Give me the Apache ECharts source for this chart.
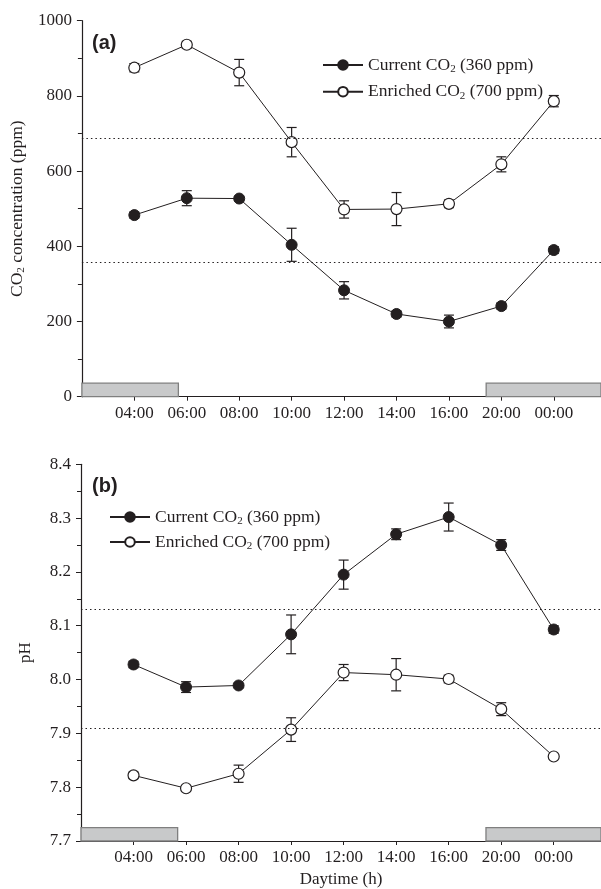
<!DOCTYPE html>
<html>
<head>
<meta charset="utf-8">
<script src="https://cdn.jsdelivr.net/npm/echarts@6/dist/echarts.min.js"></script>
<style>
html,body{margin:0;padding:0;background:#fff;}
#chart{width:601px;height:889px;}
</style>
</head>
<body>
<div id="chart"></div>
<script>
// ---- data ----
const timeLabels = ['04:00','06:00','08:00','10:00','12:00','14:00','16:00','20:00','00:00'];
const co2Current = [483, 528, 527, 404, 283, 220, 200, 241, 390];
const co2CurrentErr = [8, 20, 6, 44, 23, 8, 17, 8, 9];
const co2Enriched = [875, 936, 862, 677, 498, 499, 513, 618, 786];
const co2EnrichedErr = [11, 9, 35, 39, 23, 44, 10, 20, 15];
const phCurrent = [8.028, 7.986, 7.989, 8.084, 8.195, 8.270, 8.302, 8.250, 8.093];
const phCurrentErr = [0.006, 0.01, 0.004, 0.036, 0.027, 0.01, 0.026, 0.01, 0.007];
const phEnriched = [7.822, 7.798, 7.825, 7.907, 8.013, 8.009, 8.001, 7.945, 7.857];
const phEnrichedErr = [0.006, 0.005, 0.016, 0.022, 0.015, 0.03, 0.007, 0.012, 0.004];
const co2RefLines = [688, 357];
const phRefLines = [8.126, 7.91];
const darkPeriods = [[-1, 0.84], [6.71, 8.9]]; // x-extent (category index units)
const co2DarkHeight = 36;
const phDarkTop = 7.725;

const INK = '#231f20';
const SERIF = '"Liberation Serif", "DejaVu Serif", serif';
const NAME_CUR = 'Current CO2 (360 ppm)';
const NAME_ENR = 'Enriched CO2 (700 ppm)';

const chart = echarts.init(document.getElementById('chart'), null, {renderer: 'canvas'});

function pts(arr) { return arr.map((v, i) => [i, v]); }
function errs(arr, e) { return arr.map((v, i) => [i, v - e[i], v + e[i]]); }

function errRender(params, api) {
  const x = api.value(0), lo = api.value(1), hi = api.value(2);
  const p1 = api.coord([x, hi]), p2 = api.coord([x, lo]);
  const w = 5;
  const st = {stroke: INK, lineWidth: 1.2};
  return {
    type: 'group',
    children: [
      {type: 'line', shape: {x1: p1[0], y1: p1[1], x2: p2[0], y2: p2[1]}, style: st},
      {type: 'line', shape: {x1: p1[0] - w, y1: p1[1], x2: p1[0] + w, y2: p1[1]}, style: st},
      {type: 'line', shape: {x1: p2[0] - w, y1: p2[1], x2: p2[0] + w, y2: p2[1]}, style: st}
    ]
  };
}

const richText = {
  t: {fontFamily: SERIF, fontSize: 17.5, color: INK, lineHeight: 20},
  s: {fontFamily: SERIF, fontSize: 11, color: INK, lineHeight: 10, verticalAlign: 'bottom'}
};

function legendFmt(name) {
  if (name === NAME_CUR) return '{t|Current CO}{s|2}{t| (360 ppm)}';
  return '{t|Enriched CO}{s|2}{t| (700 ppm)}';
}

const xAxisCommon = {
  type: 'value', min: -1, max: 8.9, interval: 1,
  axisLine: {show: true, onZero: false, lineStyle: {color: INK, width: 1.2}},
  axisTick: {show: true, length: 4, lineStyle: {color: INK, width: 1}},
  splitLine: {show: false},
  axisLabel: {
    show: true, margin: 8, fontFamily: SERIF, fontSize: 17, color: INK,
    showMinLabel: false, showMaxLabel: false,
    formatter: v => (Number.isInteger(v) && v >= 0 && v < timeLabels.length) ? timeLabels[v] : ''
  }
};

function darkAreas(yBottom, yTop) {
  return darkPeriods.map(p => [{coord: [p[0], yBottom]}, {coord: [p[1], yTop]}]);
}

const lineStyleCommon = {color: INK, width: 1};
const markLineStyle = {color: INK, width: 1.2, type: [1.5, 3]};

const option = {
  backgroundColor: '#fff',
  animation: false,
  grid: [
    {left: 81, right: 0, top: 20.7, height: 376},
    {left: 81, right: 0, top: 464.3, height: 377}
  ],
  xAxis: [
    Object.assign({gridIndex: 0}, xAxisCommon),
    Object.assign({gridIndex: 1, name: 'Daytime (h)', nameLocation: 'middle', nameGap: 30,
      nameTextStyle: {fontFamily: SERIF, fontSize: 17, color: INK}}, xAxisCommon)
  ],
  yAxis: [
    {
      gridIndex: 0, type: 'value', min: 0, max: 1000, interval: 200,
      name: '{t|CO}{s|2}{t| concentration (ppm)}', nameLocation: 'middle', nameGap: 50, nameRotate: 90,
      nameTextStyle: {rich: richText},
      axisLine: {show: true, onZero: false, lineStyle: {color: INK, width: 1.2}},
      axisTick: {show: true, length: 5, lineStyle: {color: INK}},
      minorTick: {show: true, splitNumber: 2, length: 4, lineStyle: {color: INK}},
      splitLine: {show: false},
      axisLabel: {margin: 10, fontFamily: SERIF, fontSize: 17, color: INK, formatter: v => String(v)}
    },
    {
      gridIndex: 1, type: 'value', min: 7.7, max: 8.4, interval: 0.1,
      name: 'pH', nameLocation: 'middle', nameGap: 47, nameRotate: 90,
      nameTextStyle: {fontFamily: SERIF, fontSize: 17, color: INK},
      axisLine: {show: true, onZero: false, lineStyle: {color: INK, width: 1.2}},
      axisTick: {show: true, length: 5, lineStyle: {color: INK}},
      minorTick: {show: true, splitNumber: 2, length: 4, lineStyle: {color: INK}},
      splitLine: {show: false},
      axisLabel: {margin: 10, fontFamily: SERIF, fontSize: 17, color: INK, formatter: v => v.toFixed(1)}
    }
  ],
  legend: [
    {
      data: [NAME_CUR, NAME_ENR], orient: 'vertical', left: 317, top: 51,
      itemWidth: 40, itemHeight: 12, itemGap: 7.7,
      formatter: legendFmt, textStyle: {rich: richText}, selectedMode: false
    },
    {
      data: [NAME_CUR, NAME_ENR], orient: 'vertical', left: 104, top: 503,
      itemWidth: 40, itemHeight: 12, itemGap: 6,
      formatter: legendFmt, textStyle: {rich: richText}, selectedMode: false
    }
  ],
  graphic: [
    {type: 'text', left: 92, top: 33, style: {text: '(a)', font: 'bold 20px "Liberation Sans", Arial, sans-serif', fill: INK}},
    {type: 'text', left: 92, top: 476, style: {text: '(b)', font: 'bold 20px "Liberation Sans", Arial, sans-serif', fill: INK}}
  ],
  series: [
    // ---- panel (a) ----
    {
      type: 'line', name: 'darkA', xAxisIndex: 0, yAxisIndex: 0, data: [], silent: true,
      markArea: {silent: true, itemStyle: {color: '#c8c9ca', borderColor: '#7f7f7f', borderWidth: 1.3},
        data: darkAreas(0, co2DarkHeight)},
      markLine: {silent: true, symbol: 'none', label: {show: false}, lineStyle: markLineStyle,
        data: co2RefLines.map(v => ({yAxis: v}))},
      z: 0
    },
    {type: 'custom', name: 'errA1', xAxisIndex: 0, yAxisIndex: 0, renderItem: errRender, data: errs(co2Current, co2CurrentErr), z: 1},
    {type: 'custom', name: 'errA2', xAxisIndex: 0, yAxisIndex: 0, renderItem: errRender, data: errs(co2Enriched, co2EnrichedErr), z: 1},
    {
      type: 'line', name: NAME_CUR, xAxisIndex: 0, yAxisIndex: 0, data: pts(co2Current),
      symbol: 'circle', symbolSize: 11, lineStyle: lineStyleCommon,
      itemStyle: {color: INK, borderColor: INK, borderWidth: 1}, z: 3
    },
    {
      type: 'line', name: NAME_ENR, xAxisIndex: 0, yAxisIndex: 0, data: pts(co2Enriched),
      symbol: 'circle', symbolSize: 11, lineStyle: lineStyleCommon,
      itemStyle: {color: '#fff', borderColor: INK, borderWidth: 1.2}, z: 3
    },
    // ---- panel (b) ----
    {
      type: 'line', name: 'darkB', xAxisIndex: 1, yAxisIndex: 1, data: [], silent: true,
      markArea: {silent: true, itemStyle: {color: '#c8c9ca', borderColor: '#7f7f7f', borderWidth: 1.3},
        data: darkAreas(7.7, phDarkTop)},
      markLine: {silent: true, symbol: 'none', label: {show: false}, lineStyle: markLineStyle,
        data: phRefLines.map(v => ({yAxis: v}))},
      z: 0
    },
    {type: 'custom', name: 'errB1', xAxisIndex: 1, yAxisIndex: 1, renderItem: errRender, data: errs(phCurrent, phCurrentErr), z: 1},
    {type: 'custom', name: 'errB2', xAxisIndex: 1, yAxisIndex: 1, renderItem: errRender, data: errs(phEnriched, phEnrichedErr), z: 1},
    {
      type: 'line', name: NAME_CUR, xAxisIndex: 1, yAxisIndex: 1, data: pts(phCurrent),
      symbol: 'circle', symbolSize: 11, lineStyle: lineStyleCommon,
      itemStyle: {color: INK, borderColor: INK, borderWidth: 1}, z: 3
    },
    {
      type: 'line', name: NAME_ENR, xAxisIndex: 1, yAxisIndex: 1, data: pts(phEnriched),
      symbol: 'circle', symbolSize: 11, lineStyle: lineStyleCommon,
      itemStyle: {color: '#fff', borderColor: INK, borderWidth: 1.2}, z: 3
    }
  ]
};

chart.setOption(option);
</script>
</body>
</html>
